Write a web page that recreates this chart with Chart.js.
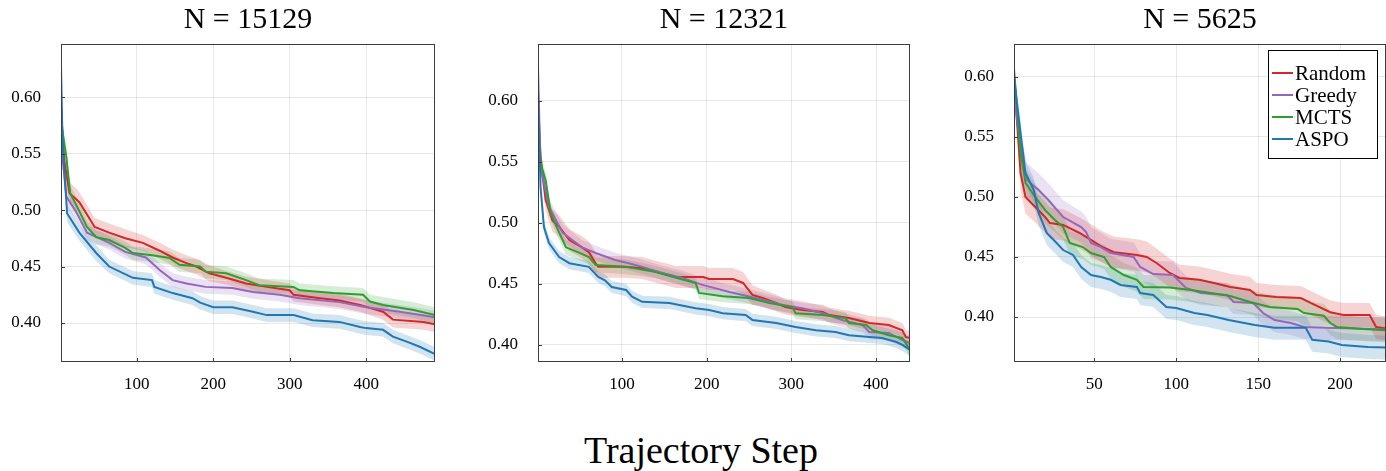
<!DOCTYPE html>
<html>
<head>
<meta charset="utf-8">
<script src="https://cdn.jsdelivr.net/npm/chart.js@4.4.1/dist/chart.umd.min.js"></script>
<style>
  html, body { margin: 0; padding: 0; background: #fff; }
  body { width: 1386px; height: 471px; overflow: hidden; position: relative; }
  canvas { position: absolute; top: 0; }
  #xlabel {
    position: absolute; left: 0; width: 1402px; top: 428px;
    text-align: center; font-family: 'Liberation Serif', 'DejaVu Serif', serif;
    font-size: 38px; color: #000;
  }
</style>
</head>
<body>
<canvas id="panel1" width="496" height="400" style="left:0px"></canvas>
<canvas id="panel2" width="494" height="400" style="left:477px"></canvas>
<canvas id="panel3" width="494" height="400" style="left:953px"></canvas>
<div id="xlabel">Trajectory Step</div>
<script>
const methods = ['Random', 'Greedy', 'MCTS', 'ASPO'];
const lineColors = ['#d62728', '#9467bd', '#2ca02c', '#1f77b4'];
const bandColors = ['rgba(214,39,40,0.2)', 'rgba(148,103,189,0.2)', 'rgba(44,160,44,0.2)', 'rgba(31,119,180,0.2)'];
const panelTitles = ['N = 15129', 'N = 12321', 'N = 5625'];
const yTicks = [0.40, 0.45, 0.50, 0.55, 0.60];
const xTicksLong = [100, 200, 300, 400];
const xTicksShort = [50, 100, 150, 200];

// N = 15129
const p1RandomSteps = [1, 5, 12, 25, 45, 64, 85, 108, 130, 147, 165, 178, 195, 217, 243, 270, 300, 305, 340, 365, 392, 422, 435, 475, 490];
const p1RandomMean = [0.590, 0.545, 0.515, 0.507, 0.485, 0.480, 0.475, 0.471, 0.464, 0.458, 0.453, 0.450, 0.444, 0.440, 0.435, 0.432, 0.429, 0.425, 0.422, 0.420, 0.416, 0.410, 0.403, 0.401, 0.399];
const p1RandomBand = [0.012, 0.011, 0.010, 0.009, 0.008, 0.008, 0.008, 0.007, 0.007, 0.007, 0.007, 0.007, 0.007, 0.006, 0.006, 0.006, 0.006, 0.006, 0.006, 0.006, 0.006, 0.007, 0.007, 0.007, 0.007];
const p1GreedySteps = [1, 8, 22, 35, 64, 85, 112, 130, 147, 165, 190, 225, 252, 287, 313, 365, 400, 444, 490];
const p1GreedyMean = [0.560, 0.512, 0.497, 0.480, 0.471, 0.463, 0.458, 0.447, 0.438, 0.435, 0.432, 0.431, 0.4275, 0.425, 0.422, 0.4185, 0.414, 0.410, 0.405];
const p1GreedyBand = [0.010, 0.008, 0.007, 0.007, 0.006, 0.006, 0.006, 0.006, 0.006, 0.006, 0.006, 0.006, 0.006, 0.006, 0.006, 0.006, 0.006, 0.006, 0.006];
const p1MctsSteps = [1, 8, 13, 22, 35, 47, 64, 85, 95, 120, 143, 156, 183, 190, 217, 243, 260, 305, 313, 357, 396, 405, 422, 462, 490];
const p1MctsMean = [0.578, 0.547, 0.515, 0.503, 0.485, 0.476, 0.4735, 0.4665, 0.462, 0.460, 0.4575, 0.4515, 0.450, 0.4455, 0.444, 0.438, 0.4335, 0.432, 0.429, 0.4265, 0.425, 0.419, 0.416, 0.4115, 0.407];
const p1MctsBand = [0.010, 0.008, 0.007, 0.007, 0.006, 0.006, 0.006, 0.006, 0.006, 0.006, 0.006, 0.006, 0.006, 0.006, 0.006, 0.006, 0.006, 0.006, 0.006, 0.006, 0.006, 0.006, 0.007, 0.007, 0.007];
const p1AspoSteps = [1, 3, 9, 25, 47, 64, 95, 120, 123, 147, 173, 183, 200, 225, 252, 270, 305, 330, 365, 392, 400, 422, 435, 453, 470, 490];
const p1AspoMean = [0.627, 0.560, 0.497, 0.480, 0.462, 0.450, 0.440, 0.438, 0.432, 0.4265, 0.422, 0.418, 0.414, 0.414, 0.410, 0.407, 0.407, 0.4025, 0.401, 0.3965, 0.3955, 0.394, 0.388, 0.3835, 0.379, 0.3725];
const p1AspoBand = [0.003, 0.008, 0.008, 0.007, 0.007, 0.006, 0.006, 0.006, 0.006, 0.006, 0.006, 0.006, 0.006, 0.006, 0.006, 0.006, 0.006, 0.006, 0.006, 0.006, 0.006, 0.006, 0.006, 0.006, 0.006, 0.006];

// N = 12321
const p2RandomSteps = [1, 4, 10, 18, 26, 38, 53, 61, 69, 72, 101, 124, 140, 164, 196, 203, 231, 243, 254, 266, 282, 293, 313, 337, 345, 368, 392, 415, 431, 435, 440];
const p2RandomMean = [0.600, 0.554, 0.519, 0.502, 0.497, 0.486, 0.480, 0.476, 0.467, 0.464, 0.464, 0.463, 0.460, 0.4557, 0.4557, 0.454, 0.454, 0.4508, 0.441, 0.4385, 0.4344, 0.431, 0.4286, 0.427, 0.4245, 0.422, 0.418, 0.4163, 0.412, 0.4065, 0.4057];
const p2RandomBand = [0.010, 0.010, 0.009, 0.009, 0.009, 0.009, 0.009, 0.009, 0.009, 0.009, 0.009, 0.009, 0.009, 0.009, 0.009, 0.009, 0.009, 0.009, 0.008, 0.007, 0.007, 0.006, 0.006, 0.006, 0.006, 0.006, 0.006, 0.006, 0.006, 0.006, 0.006];
const p2GreedySteps = [1, 4, 14, 30, 53, 69, 92, 108, 124, 148, 171, 195, 227, 258, 290, 313, 337, 360, 384, 392, 415, 431, 440];
const p2GreedyMean = [0.628, 0.546, 0.513, 0.492, 0.480, 0.4754, 0.4696, 0.467, 0.464, 0.459, 0.455, 0.4492, 0.4434, 0.4385, 0.4327, 0.430, 0.426, 0.4205, 0.4163, 0.4106, 0.4098, 0.404, 0.4016];
const p2GreedyBand = [0.008, 0.008, 0.007, 0.007, 0.006, 0.006, 0.006, 0.006, 0.006, 0.006, 0.006, 0.006, 0.006, 0.006, 0.006, 0.006, 0.006, 0.006, 0.006, 0.006, 0.006, 0.006, 0.006];
const p2MctsSteps = [1, 4, 10, 16, 26, 34, 50, 61, 69, 105, 140, 164, 187, 191, 219, 250, 274, 301, 305, 337, 364, 368, 388, 396, 415, 431, 440];
const p2MctsMean = [0.585, 0.549, 0.535, 0.508, 0.492, 0.480, 0.4754, 0.472, 0.4655, 0.464, 0.4598, 0.455, 0.4508, 0.4426, 0.440, 0.4385, 0.4344, 0.431, 0.426, 0.4245, 0.422, 0.418, 0.4163, 0.412, 0.408, 0.4057, 0.396];
const p2MctsBand = [0.008, 0.008, 0.007, 0.006, 0.006, 0.006, 0.006, 0.006, 0.006, 0.006, 0.005, 0.005, 0.005, 0.005, 0.005, 0.005, 0.005, 0.005, 0.005, 0.005, 0.005, 0.005, 0.005, 0.005, 0.005, 0.005, 0.006];
const p2AspoSteps = [1, 4, 8, 14, 26, 38, 61, 72, 80, 88, 105, 112, 124, 156, 187, 203, 219, 246, 254, 282, 305, 329, 352, 368, 392, 407, 424, 431, 440];
const p2AspoMean = [0.607, 0.5295, 0.4967, 0.4835, 0.472, 0.467, 0.464, 0.4557, 0.453, 0.4475, 0.445, 0.4395, 0.4353, 0.4344, 0.430, 0.4286, 0.426, 0.4245, 0.4205, 0.418, 0.4147, 0.412, 0.4106, 0.408, 0.4065, 0.4057, 0.4024, 0.400, 0.396];
const p2AspoBand = [0.004, 0.006, 0.005, 0.005, 0.005, 0.005, 0.005, 0.005, 0.005, 0.005, 0.005, 0.005, 0.005, 0.005, 0.005, 0.005, 0.005, 0.005, 0.005, 0.005, 0.005, 0.005, 0.005, 0.005, 0.005, 0.005, 0.005, 0.005, 0.005];

// N = 5625
const p3RandomSteps = [1, 5, 8, 14, 20, 23, 31, 35, 41, 48, 54, 62, 76, 82, 88, 96, 102, 114, 123, 133, 145, 149, 161, 176, 182, 194, 202, 218, 222, 228];
const p3RandomMean = [0.600, 0.520, 0.500, 0.4917, 0.4833, 0.4783, 0.4767, 0.474, 0.470, 0.4642, 0.459, 0.454, 0.4517, 0.450, 0.445, 0.4367, 0.4325, 0.431, 0.4283, 0.425, 0.4225, 0.4183, 0.4167, 0.4158, 0.4117, 0.404, 0.4017, 0.4017, 0.3917, 0.3905];
const p3RandomBand = [0.004, 0.014, 0.014, 0.013, 0.013, 0.013, 0.013, 0.013, 0.013, 0.013, 0.013, 0.013, 0.013, 0.013, 0.012, 0.012, 0.011, 0.011, 0.011, 0.011, 0.011, 0.010, 0.010, 0.010, 0.010, 0.010, 0.010, 0.010, 0.010, 0.010];
const p3GreedySteps = [1, 6, 9, 16, 22, 31, 42, 45, 48, 54, 60, 74, 78, 86, 98, 106, 115, 131, 135, 147, 153, 160, 170, 178, 190, 210, 228];
const p3GreedyMean = [0.585, 0.531, 0.514, 0.5058, 0.4975, 0.4833, 0.475, 0.4708, 0.4617, 0.4583, 0.4533, 0.450, 0.4417, 0.4358, 0.435, 0.4242, 0.420, 0.4183, 0.4125, 0.4117, 0.4033, 0.3975, 0.395, 0.3917, 0.391, 0.3905, 0.3895];
const p3GreedyBand = [0.010, 0.014, 0.014, 0.014, 0.014, 0.014, 0.013, 0.013, 0.013, 0.012, 0.012, 0.012, 0.011, 0.011, 0.011, 0.010, 0.010, 0.010, 0.010, 0.010, 0.010, 0.010, 0.010, 0.010, 0.010, 0.010, 0.010];
const p3MctsSteps = [1, 5, 8, 14, 20, 26, 31, 35, 43, 48, 56, 60, 68, 76, 80, 96, 109, 121, 133, 145, 157, 174, 178, 190, 194, 198, 214, 228];
const p3MctsMean = [0.607, 0.5367, 0.5117, 0.500, 0.489, 0.4808, 0.475, 0.4617, 0.4583, 0.4533, 0.450, 0.4417, 0.435, 0.431, 0.425, 0.4245, 0.4225, 0.420, 0.4175, 0.4125, 0.4083, 0.4067, 0.4033, 0.401, 0.395, 0.3917, 0.390, 0.389];
const p3MctsBand = [0.003, 0.012, 0.012, 0.011, 0.011, 0.010, 0.010, 0.010, 0.010, 0.010, 0.010, 0.010, 0.010, 0.010, 0.010, 0.010, 0.010, 0.010, 0.010, 0.010, 0.010, 0.010, 0.010, 0.010, 0.010, 0.010, 0.010, 0.010];
const p3AspoSteps = [1, 5, 8, 13, 16, 21, 27, 31, 37, 42, 48, 54, 60, 66, 76, 78, 86, 94, 100, 111, 119, 132, 148, 160, 179, 183, 193, 201, 217, 228];
const p3AspoMean = [0.600, 0.553, 0.520, 0.506, 0.4867, 0.470, 0.4617, 0.4558, 0.4517, 0.4417, 0.435, 0.4333, 0.431, 0.4267, 0.425, 0.420, 0.4183, 0.4083, 0.4075, 0.4033, 0.4017, 0.3975, 0.3933, 0.391, 0.391, 0.381, 0.3795, 0.3767, 0.375, 0.3745];
const p3AspoBand = [0.003, 0.010, 0.010, 0.010, 0.010, 0.010, 0.010, 0.010, 0.010, 0.010, 0.010, 0.010, 0.010, 0.010, 0.010, 0.010, 0.010, 0.010, 0.010, 0.010, 0.010, 0.010, 0.010, 0.010, 0.010, 0.010, 0.010, 0.010, 0.010, 0.010];

const serif = "'Liberation Serif', 'DejaVu Serif', serif";

const panels = [
    { id: 'panel1', title: panelTitles[0], xMax: 490, yMin: 0.3655, yMax: 0.647, xTicks: xTicksLong, legend: false,
      series: [[p1RandomSteps, p1RandomMean, p1RandomBand], [p1GreedySteps, p1GreedyMean, p1GreedyBand],
               [p1MctsSteps, p1MctsMean, p1MctsBand], [p1AspoSteps, p1AspoMean, p1AspoBand]] },
    { id: 'panel2', title: panelTitles[1], xMax: 440, yMin: 0.386, yMax: 0.6467, xTicks: xTicksLong, legend: false,
      series: [[p2RandomSteps, p2RandomMean, p2RandomBand], [p2GreedySteps, p2GreedyMean, p2GreedyBand],
               [p2MctsSteps, p2MctsMean, p2MctsBand], [p2AspoSteps, p2AspoMean, p2AspoBand]] },
    { id: 'panel3', title: panelTitles[2], xMax: 228, yMin: 0.3625, yMax: 0.6275, xTicks: xTicksShort, legend: true,
      series: [[p3RandomSteps, p3RandomMean, p3RandomBand], [p3GreedySteps, p3GreedyMean, p3GreedyBand],
               [p3MctsSteps, p3MctsMean, p3MctsBand], [p3AspoSteps, p3AspoMean, p3AspoBand]] }
];

// frame round the plot area plus small inward ticks
const framePlugin = {
    id: 'frame',
    afterDatasetsDraw(chart) {
        const { ctx, chartArea: a, scales } = chart;
        ctx.save();
        ctx.strokeStyle = '#3c3c3c';
        ctx.lineWidth = 1;
        ctx.strokeRect(a.left + 0.5, a.top + 0.5, a.right - a.left - 1, a.bottom - a.top - 1);
        ctx.beginPath();
        scales.y.ticks.forEach(t => {
            const y = Math.round(scales.y.getPixelForValue(t.value)) + 0.5;
            ctx.moveTo(a.left, y);
            ctx.lineTo(a.left + 4, y);
        });
        scales.x.ticks.forEach(t => {
            const x = Math.round(scales.x.getPixelForValue(t.value)) + 0.5;
            ctx.moveTo(x, a.bottom);
            ctx.lineTo(x, a.bottom - 4);
        });
        ctx.stroke();
        ctx.restore();
    }
};

const boxLegendPlugin = {
    id: 'boxLegend',
    afterDraw(chart, args, opts) {
        if (!opts.show) return;
        const { ctx, chartArea: a } = chart;
        const w = 109, h = 108;
        const left = a.right - 9 - w, top = a.top + 6;
        ctx.save();
        ctx.fillStyle = '#fff';
        ctx.fillRect(left, top, w, h);
        ctx.strokeStyle = '#000';
        ctx.lineWidth = 1;
        ctx.strokeRect(left + 0.5, top + 0.5, w, h);
        ctx.font = '21px ' + serif;
        ctx.textBaseline = 'middle';
        ctx.fillStyle = '#000';
        methods.forEach((name, i) => {
            const y = top + 23 + i * 22;
            ctx.strokeStyle = lineColors[i];
            ctx.lineWidth = 2;
            ctx.beginPath();
            ctx.moveTo(left + 4, y);
            ctx.lineTo(left + 25, y);
            ctx.stroke();
            ctx.fillText(name, left + 27, y + 1);
        });
        ctx.restore();
    }
};

panels.forEach(function (p) {
    const datasets = [];
    p.series.forEach(function (s, i) {
        const steps = s[0], mean = s[1], band = s[2];
        datasets.push({
            label: methods[i] + ' upper',
            data: steps.map((x, k) => ({ x: x, y: mean[k] + band[k] })),
            borderWidth: 0, pointRadius: 0, fill: false, order: 20 + i
        });
        datasets.push({
            label: methods[i] + ' lower',
            data: steps.map((x, k) => ({ x: x, y: mean[k] - band[k] })),
            borderWidth: 0, pointRadius: 0, fill: '-1', backgroundColor: bandColors[i], order: 20 + i
        });
    });
    p.series.forEach(function (s, i) {
        datasets.push({
            label: methods[i],
            data: s[0].map((x, k) => ({ x: x, y: s[1][k] })),
            borderColor: lineColors[i], borderWidth: 2, pointRadius: 0, fill: false,
            tension: 0, order: 4 - i
        });
    });

    new Chart(document.getElementById(p.id), {
        type: 'line',
        data: { datasets: datasets },
        plugins: [framePlugin, boxLegendPlugin],
        options: {
            responsive: false,
            animation: false,
            events: [],
            plugins: {
                legend: { display: false },
                tooltip: { enabled: false },
                boxLegend: { show: p.legend },
                title: {
                    display: true,
                    text: p.title,
                    color: '#000',
                    font: { family: serif, size: 30, weight: 'normal' },
                    padding: { top: 2, bottom: 6 }
                }
            },
            scales: {
                x: {
                    type: 'linear', min: 1, max: p.xMax,
                    afterBuildTicks: scale => { scale.ticks = p.xTicks.map(v => ({ value: v })); },
                    afterFit: scale => { scale.height = 38; },
                    border: { display: false },
                    grid: { color: 'rgba(0,0,0,0.09)', drawTicks: false },
                    ticks: { padding: 12, color: '#000', maxRotation: 0, autoSkip: false,
                             font: { family: serif, size: 17 } }
                },
                y: {
                    type: 'linear', min: p.yMin, max: p.yMax,
                    afterBuildTicks: scale => { scale.ticks = yTicks.map(v => ({ value: v })); },
                    afterFit: scale => { scale.width = 61; },
                    border: { display: false },
                    grid: { color: 'rgba(0,0,0,0.09)', drawTicks: false },
                    ticks: { padding: 20, color: '#000', autoSkip: false,
                             font: { family: serif, size: 17 },
                             callback: v => v.toFixed(2) }
                },
                // empty right-hand axis that only reserves space, so the title centres over the plot
                spacer: {
                    type: 'linear', position: 'right', min: 0, max: 1,
                    afterFit: scale => { scale.width = 61; },
                    border: { display: false },
                    grid: { display: false },
                    ticks: { display: false }
                }
            }
        }
    });
});
</script>
</body>
</html>
